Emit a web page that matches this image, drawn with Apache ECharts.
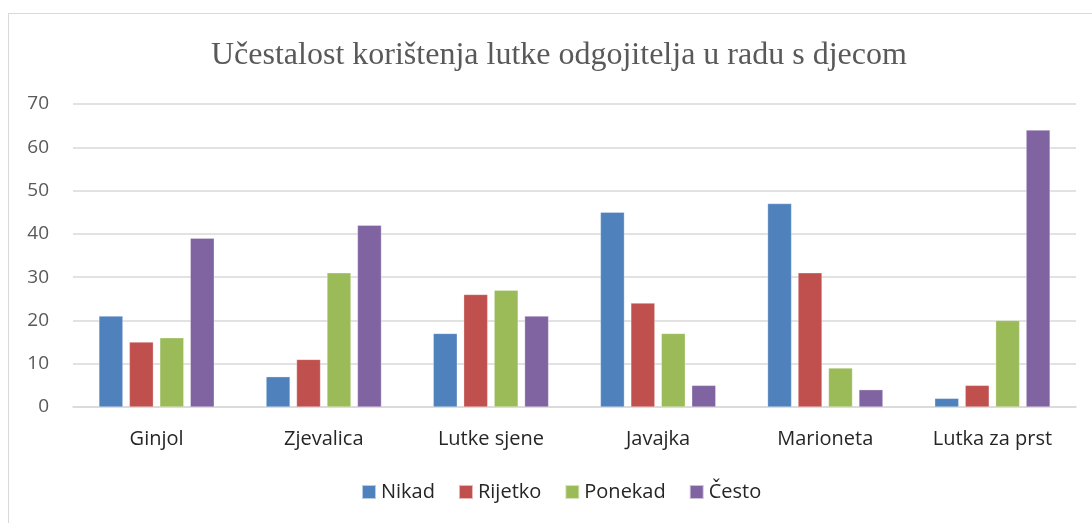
<!DOCTYPE html>
<html><head><meta charset="utf-8">
<script src="https://cdn.jsdelivr.net/npm/echarts@6/dist/echarts.min.js"></script>
<style>html,body{margin:0;padding:0;background:#fff}#c{width:1092px;height:523px}
#frame{position:absolute;left:8px;top:13px;width:1100px;height:530px;border:1.5px solid #d9d9d9;pointer-events:none}</style>
</head><body><div id="c"></div><div id="frame"></div>
<script>
const categories = ['Ginjol','Zjevalica','Lutke sjene','Javajka','Marioneta','Lutka za prst'];
const seriesNames = ['Nikad','Rijetko','Ponekad','Često'];
const nikad   = [21, 7, 17, 45, 47, 2];
const rijetko = [15, 11, 26, 24, 31, 5];
const ponekad = [16, 31, 27, 17, 9, 20];
const cesto   = [39, 42, 21, 5, 4, 64];
const colors = ['#4f81bd','#c0504d','#9bbb59','#8064a2'];
const values = [nikad, rijetko, ponekad, cesto];
const chart = echarts.init(document.getElementById('c'));
chart.setOption({
  animation:false,
  title:{text:'Učestalost korištenja lutke odgojitelja u radu s djecom',left:206,top:35,
    textStyle:{fontFamily:'Liberation Serif',fontSize:32,fontWeight:'normal',color:'#595959'}},
  grid:{left:73,right:16,top:104,bottom:116},
  legend:{left:356,bottom:16,itemWidth:14,itemHeight:14,itemGap:23,icon:'rect',
    textStyle:{fontFamily:'Open Sans',fontSize:20,color:'#262626'}},
  xAxis:{type:'category',data:categories,axisLine:{lineStyle:{color:'#d9d9d9',width:1.5}},axisTick:{show:false},
    axisLabel:{fontFamily:'Open Sans',fontSize:20,color:'#262626',margin:22}},
  yAxis:{type:'value',min:0,max:70,interval:10,axisLine:{show:false},
    splitLine:{lineStyle:{color:'#d9d9d9',width:1.5}},
    axisLabel:{fontFamily:'Open Sans',fontSize:19,color:'#595959',margin:24}},
  series: seriesNames.map((n,i)=>({name:n,type:'bar',data:values[i],barGap:'27%',barCategoryGap:'31%',
    itemStyle:{color:colors[i],borderColor:'rgba(255,255,255,0.6)',borderWidth:0.5}}))
});
</script></body></html>
